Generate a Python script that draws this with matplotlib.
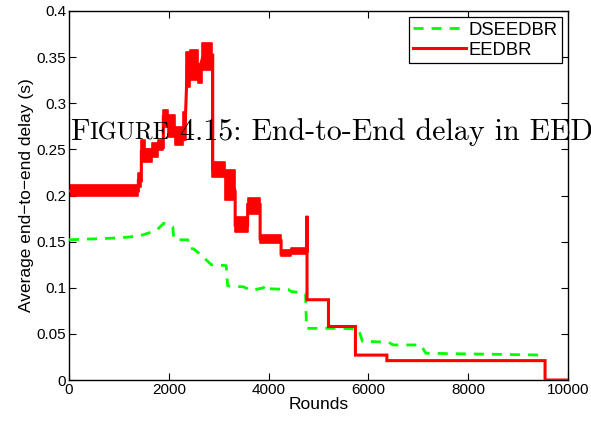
import matplotlib
matplotlib.use("Agg")
import matplotlib.pyplot as plt
import numpy as np

# ---- data ----
dseedbr_rounds = [0, 500, 1000, 1400, 1750, 1900, 2080, 2100, 2200, 2380, 2420, 2500, 2680,
                  2850, 3150, 3180, 3500, 3650, 3900, 3950, 4000, 4400, 4450, 4740, 4760,
                  5500, 5800, 5880, 6400, 6500, 7050, 7150, 9550]
dseedbr_delay = [0.152, 0.153, 0.154, 0.156, 0.162, 0.170, 0.166, 0.153, 0.152, 0.152, 0.143,
                 0.142, 0.134, 0.125, 0.124, 0.102, 0.101, 0.097, 0.100, 0.103, 0.099, 0.098,
                 0.096, 0.094, 0.056, 0.056, 0.055, 0.042, 0.041, 0.038, 0.038, 0.029, 0.027]

eedbr_rounds = [0, 1390, 1390, 1450, 1450, 1890, 1890, 2000, 2290, 2330, 2370, 2600, 2680,
                2880, 2880, 3130, 3330, 3330, 3580, 3580, 3830, 3830, 4250, 4250, 4440,
                4440, 4770, 4770, 4770, 5200, 5200, 5740, 5740, 6370, 6370, 9540, 9540, 10000]
eedbr_delay = [0.205, 0.205, 0.216, 0.216, 0.248, 0.252, 0.284, 0.280, 0.262, 0.280, 0.340,
               0.335, 0.350, 0.352, 0.228, 0.225, 0.205, 0.168, 0.168, 0.190, 0.190, 0.153,
               0.151, 0.137, 0.138, 0.140, 0.140, 0.178, 0.087, 0.087, 0.058, 0.058, 0.027,
               0.027, 0.021, 0.021, 0.0, 0.0]

# fluctuation envelope of EEDBR (step-wise)
band_rounds = [0, 1390, 1450, 1520, 1660, 1790, 1890, 1990, 2120, 2290, 2350, 2420, 2590,
               2670, 2870, 3130, 3330, 3580, 3830, 4250, 4440, 4770]
band_low = [0.199, 0.209, 0.236, 0.236, 0.242, 0.249, 0.274, 0.263, 0.255, 0.260, 0.318,
            0.325, 0.322, 0.336, 0.220, 0.195, 0.160, 0.180, 0.148, 0.134, 0.137, 0.137]
band_high = [0.211, 0.224, 0.260, 0.250, 0.257, 0.260, 0.293, 0.287, 0.274, 0.290, 0.356,
             0.358, 0.343, 0.365, 0.236, 0.228, 0.177, 0.197, 0.157, 0.141, 0.143, 0.143]

x_ticks = [0, 2000, 4000, 6000, 8000, 10000]
y_ticks = [0, 0.05, 0.1, 0.15, 0.2, 0.25, 0.3, 0.35, 0.4]
y_tick_labels = ["0", "0.05", "0.1", "0.15", "0.2", "0.25", "0.3", "0.35", "0.4"]

plt.rcParams['font.family'] = ['Liberation Sans', 'DejaVu Sans']

fig = plt.figure(figsize=(5.91, 4.25), dpi=100)
ax = fig.add_axes([69/591, 45/425, 499/591, 369/425])

ax.fill_between(band_rounds, band_low, band_high, step='post', color='red', lw=1.2,
                edgecolor='red', zorder=2)
ax.plot(dseedbr_rounds, dseedbr_delay, color=(0, 1, 0), lw=2, dashes=(3.6, 2.9),
        label='DSEEDBR', zorder=3)
ax.plot(eedbr_rounds, eedbr_delay, color='red', lw=2.2, label='EEDBR', zorder=3,
        solid_joinstyle='miter')

ax.set_xlim(0, 10000)
ax.set_ylim(0, 0.4)
ax.set_xticks(x_ticks)
ax.set_xticklabels([str(t) for t in x_ticks])
ax.set_yticks(y_ticks)
ax.set_yticklabels(y_tick_labels)
ax.tick_params(direction='in', top=True, right=True, length=5, width=0.8,
               labelsize=11, pad=2)
for s in ax.spines.values():
    s.set_linewidth(1.0)
ax.set_xlabel('Rounds', fontsize=12.5, labelpad=0)
ax.set_ylabel('Average end\u2212to\u2212end delay (s)', fontsize=12.5, labelpad=2)

leg = ax.legend(loc='upper right', fontsize=13.3, frameon=True, fancybox=False,
                edgecolor='black', framealpha=1, borderaxespad=0.35, handlelength=2.85,
                borderpad=0.22, labelspacing=0.18, handletextpad=0.15)
leg.get_frame().set_linewidth(0.9)

# overlapping caption text in small caps (Computer Modern)
fig.canvas.draw()
renderer = fig.canvas.get_renderer()
serif = ['cmr10', 'DejaVu Serif']
base_y = 1 - 140/425
big = 21.6
small = 17.4
x0 = 70/591
pieces = [("F", big), ("IGURE", small), (" 4.15: End-to-End delay in EEDBR", big)]
xcur = x0
for txt, fs in pieces:
    t = fig.text(xcur, base_y, txt, fontsize=fs, family=serif, color='black',
                 va='baseline', ha='left', zorder=10)
    bb = t.get_window_extent(renderer=renderer)
    xcur = xcur + bb.width / fig.bbox.width

fig.savefig('out.png', dpi=100)
